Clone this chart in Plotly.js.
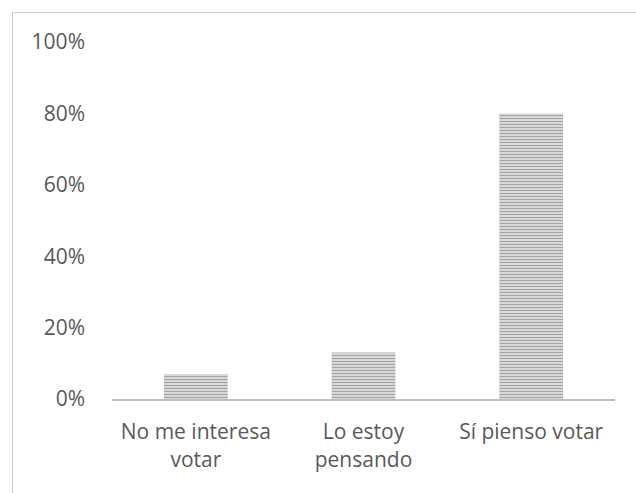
<!DOCTYPE html>
<html>
<head>
<meta charset="utf-8">
<script src="https://cdn.plot.ly/plotly-3.0.1.min.js"></script>
<style>
  html, body { margin: 0; padding: 0; background: #ffffff; }
  #frame { position: absolute; left: 12px; top: 12px; width: 640px; height: 500px;
           border-left: 1px solid #d0d0d0; border-top: 1px solid #d0d0d0; }
  #chart { position: absolute; left: 0; top: 0; width: 636px; height: 493px; }
</style>
</head>
<body>
<div id="frame"></div>
<div id="chart"></div>
<script>
// Data
const categories = ["No me interesa<br>votar", "Lo estoy<br>pensando", "Sí pienso votar"];
const shares = [0.07, 0.13, 0.80];
const yTickValues = [0, 0.2, 0.4, 0.6, 0.8, 1.0];
const yTickLabels = ["0%", "20%", "40%", "60%", "80%", "100%"];

const textColor = "#595959";
const fontFamily = "Open Sans, Liberation Sans, sans-serif";

const trace = {
  type: "bar",
  x: categories,
  y: shares,
  marker: {
    color: "#dcdcdc",
    line: { width: 0 },
    pattern: { shape: "-", fgcolor: "#a3a3a3", bgcolor: "#e2e2e2", size: 3, solidity: 0.45 }
  },
  hoverinfo: "none"
};

const layout = {
  width: 636,
  height: 493,
  margin: { l: 112, r: 21, t: 42, b: 93.5, pad: 0 },
  paper_bgcolor: "rgba(0,0,0,0)",
  plot_bgcolor: "rgba(0,0,0,0)",
  showlegend: false,
  bargap: 0.62,
  font: { family: fontFamily, size: 21, color: textColor },
  xaxis: {
    type: "category",
    showgrid: false,
    zeroline: false,
    showline: true,
    linecolor: "#bfbfbf",
    linewidth: 2,
    ticks: "",
    ticklabelstandoff: 13,
    tickfont: { family: fontFamily, size: 21, color: textColor },
    fixedrange: true
  },
  yaxis: {
    range: [0, 1.0],
    tickvals: yTickValues,
    ticktext: yTickLabels,
    showgrid: false,
    zeroline: false,
    showline: false,
    ticks: "",
    ticklabelstandoff: 26,
    tickfont: { family: fontFamily, size: 21, color: textColor },
    fixedrange: true
  }
};

Plotly.newPlot("chart", [trace], layout, { displayModeBar: false, staticPlot: true });
</script>
</body>
</html>
